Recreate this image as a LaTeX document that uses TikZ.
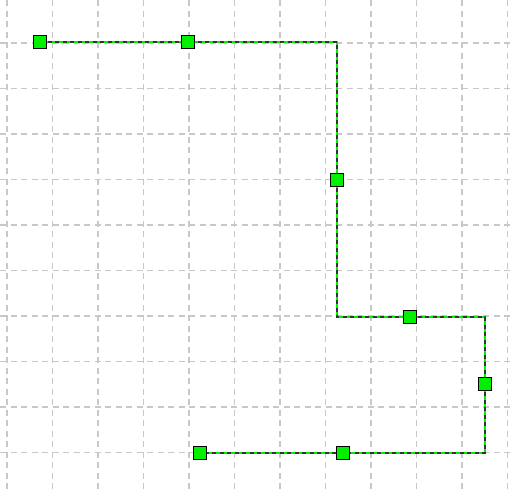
\documentclass[tikz,border=0pt]{standalone}
\usepackage{xcolor}
\usetikzlibrary{backgrounds}

\definecolor{gridgray}{HTML}{C8C8C8}
\definecolor{handle}{HTML}{00F000}

\begin{document}
\begin{tikzpicture}[
    x=1pt, y=-1pt,
    gridline/.style={draw=gridgray, line width=1.2pt, dash pattern=on 6pt off 4.5pt},
    trace/.style={draw=black!80, line width=1.5pt, dash pattern=on 4pt off 3.5pt,
        preaction={draw=handle, solid, line width=2pt}},
    vertex/.style={draw=black, fill=handle, line width=1.4pt, minimum size=13.5pt, inner sep=0pt},
]
\useasboundingbox (0,0) rectangle (512,493);

% vertices of the polyline
\node[vertex] (v1) at (40,42) {};
\node[vertex] (v2) at (188,42) {};
\node[vertex] (v3) at (337,180) {};
\node[vertex] (v4) at (410,317) {};
\node[vertex] (v5) at (485,384) {};
\node[vertex] (v6) at (343,453) {};
\node[vertex] (v7) at (200,453) {};

% bends
\coordinate (b1) at (337,42);
\coordinate (b2) at (337,317);
\coordinate (b3) at (485,317);
\coordinate (b4) at (485,453);

\begin{scope}[on background layer]
\foreach \k in {0,...,11}
    \draw[gridline] (7+45.5*\k,0) -- (7+45.5*\k,493);
\foreach \k in {0,...,9}
    \draw[gridline] (0,43+45.5*\k) -- (512,43+45.5*\k);

\draw[trace] (v1.center) -- (v2.center) -- (b1) -- (v3.center) -- (b2)
    -- (v4.center) -- (b3) -- (v5.center) -- (b4) -- (v6.center) -- (v7.center);
\end{scope}
\end{tikzpicture}
\end{document}
